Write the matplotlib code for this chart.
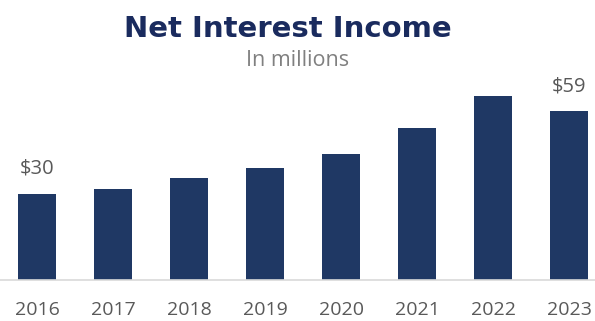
import matplotlib
matplotlib.use("Agg")
import matplotlib.pyplot as plt

# Net interest income, $ millions
years = ["2016", "2017", "2018", "2019", "2020", "2021", "2022", "2023"]
income = [30, 31.7, 35.8, 39.3, 44.2, 53.3, 64.4, 59]
labelled = {0: "$30", 7: "$59"}

navy = "#1f3864"
grey = "#595959"

fig = plt.figure(figsize=(5.95, 3.21), dpi=100)
ax = fig.add_axes([0, 41 / 321, 1, 205 / 321])

x = range(len(years))
ax.bar(x, income, width=0.5, color=navy)

for i, txt in labelled.items():
    ax.annotate(txt, (i, income[i]), xytext=(0, 11), textcoords="offset points",
                ha="center", va="bottom", fontsize=14.5, color=grey,
                family="Open Sans")

ax.set_xlim(-0.487, 7.34)
ax.set_ylim(0, 71.7)
ax.set_xticks(list(x))
ax.set_xticklabels(years, fontsize=14, color=grey, family="Open Sans")
ax.tick_params(axis="x", length=0, pad=15)
ax.set_yticks([])
for s in ["top", "left", "right"]:
    ax.spines[s].set_visible(False)
ax.spines["bottom"].set_color("#d9d9d9")
ax.spines["bottom"].set_linewidth(1.2)

fig.text(288 / 595, 1 - 29 / 321, "Net Interest Income", ha="center", va="center",
         fontsize=21, fontweight="bold", color="#1a2b5e", family="DejaVu Sans")
fig.text(298 / 595, 1 - 61 / 321, "In millions", ha="center", va="center",
         fontsize=15.5, color="#808080", family="Open Sans")

fig.savefig("out.png", dpi=100)
